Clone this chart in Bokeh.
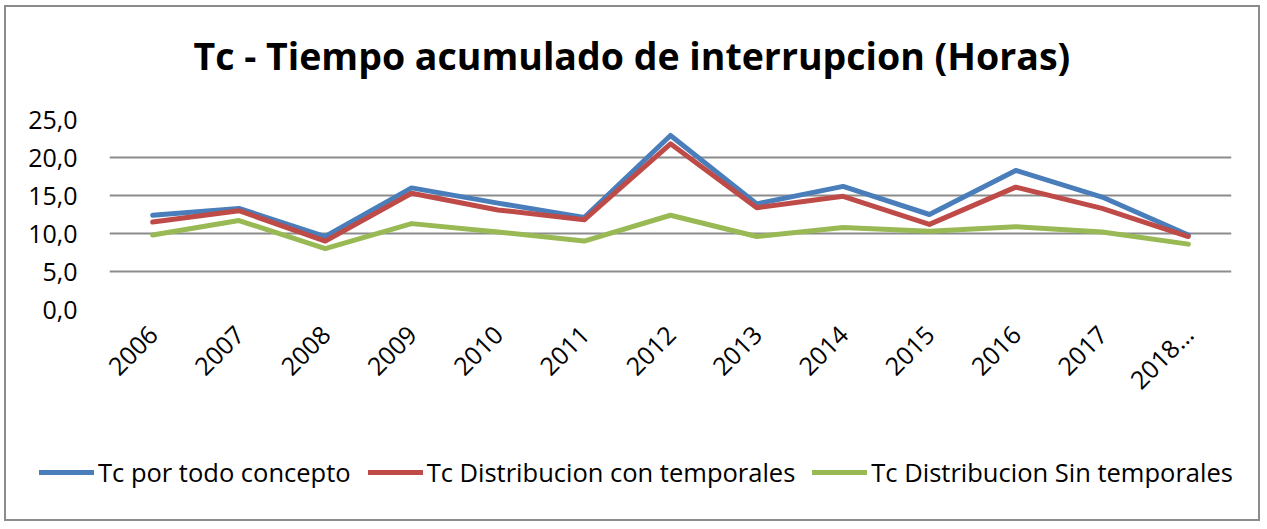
from bokeh.plotting import figure
from bokeh.layouts import column
from bokeh.models import FactorRange, Range1d, FixedTicker, Legend, LegendItem, Label
from bokeh.embed import file_html
from bokeh.resources import INLINE

years = ["2006", "2007", "2008", "2009", "2010", "2011", "2012",
         "2013", "2014", "2015", "2016", "2017", "2018…"]
tc_total = [12.4, 13.3, 9.6, 16.0, 14.0, 12.1, 22.9, 13.9, 16.2, 12.5, 18.3, 14.8, 9.8]
tc_con_temp = [11.5, 13.0, 9.0, 15.3, 13.1, 11.8, 21.8, 13.4, 14.9, 11.2, 16.1, 13.3, 9.6]
tc_sin_temp = [9.8, 11.7, 8.0, 11.3, 10.2, 9.0, 12.4, 9.6, 10.8, 10.3, 10.9, 10.2, 8.6]
names = ["Tc por todo concepto", "Tc Distribucion con temporales", "Tc Distribucion Sin temporales"]
colors = ["#4A7EBB", "#BE4B48", "#98B954"]
y_ticks = [0, 5, 10, 15, 20, 25]
title_text = "Tc  - Tiempo acumulado de interrupcion (Horas)"

FONT = "Open Sans"
W = 1252

# --- title strip (same horizontal structure as the main chart) ---
p0 = figure(frame_width=1122, frame_height=80, x_range=Range1d(0, 1122), y_range=Range1d(0, 80),
            x_axis_location=None, y_axis_location=None, output_backend="svg",
            toolbar_location=None, min_border_left=103, min_border_right=27,
            min_border_top=0, min_border_bottom=0)
p0.grid.visible = False
p0.outline_line_color = None
p0.add_layout(Label(x=84, y=32, text=title_text, text_font=FONT, text_font_style="bold",
                    text_font_size="37.5px", text_color="black", text_baseline="alphabetic",
                    text_align="left"))

# --- main chart ---
p = figure(frame_width=1122, frame_height=190,
           x_range=FactorRange(factors=years, range_padding=0),
           y_range=Range1d(0, 25), output_backend="svg", toolbar_location=None,
           min_border_left=103, min_border_right=27, min_border_top=32, min_border_bottom=120)
p.outline_line_color = None
p.xgrid.grid_line_color = None
p.ygrid.grid_line_color = "#8c8c8c"
p.ygrid.grid_line_width = 2
p.yaxis.ticker = FixedTicker(ticks=y_ticks)
p.yaxis.major_label_overrides = {t: f"{t:.1f}".replace(".", ",") for t in y_ticks}
for ax in (p.xaxis[0], p.yaxis[0]):
    ax.axis_line_color = None
    ax.major_tick_line_color = None
    ax.minor_tick_line_color = None
    ax.major_tick_out = 0
    ax.major_tick_in = 0
    ax.minor_tick_out = 0
    ax.major_label_text_font = FONT
    ax.major_label_text_font_size = "25px"
    ax.major_label_text_color = "black"
p.yaxis.major_label_standoff = 32
p.xaxis.major_label_orientation = 0.785
p.xaxis.major_label_standoff = 20

series = [tc_total, tc_con_temp, tc_sin_temp]
for vals, c in zip(series, colors):
    p.line(years, vals, line_color=c, line_width=5, line_join="round", line_cap="round")

# --- legend strip (same series, plotted outside its visible range) ---
p2 = figure(frame_width=W, frame_height=90, x_range=FactorRange(factors=years),
            y_range=Range1d(100, 200), x_axis_location=None, y_axis_location=None,
            output_backend="svg", toolbar_location=None, min_border=0)
p2.grid.visible = False
p2.outline_line_color = None
leg_renderers = [p2.line(years, vals, line_color=c, line_width=5, line_cap="round")
                 for vals, c in zip(series, colors)]
legend = Legend(items=[LegendItem(label=n, renderers=[r]) for n, r in zip(names, leg_renderers)],
                orientation="horizontal", location=(33, 30),
                label_text_font=FONT, label_text_font_size="25.5px", label_text_color="black",
                glyph_width=55, glyph_height=30, label_height=30, label_standoff=4, spacing=17,
                border_line_color=None, background_fill_alpha=0, margin=0, padding=0)
p2.add_layout(legend)

layout = column(p0, p, p2, spacing=0)
layout.styles = {"border": "2px solid #8c8c8c", "box-sizing": "content-box",
                 "margin-left": "4px", "margin-top": "5px"}

open("out.html", "w").write(file_html(layout, INLINE))
